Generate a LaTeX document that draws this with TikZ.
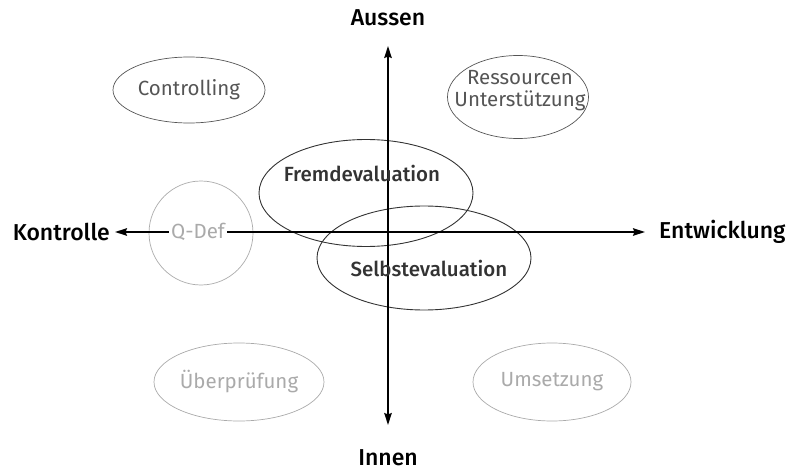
\documentclass[tikz,border=0pt]{standalone}
\usepackage{fontspec}
\setmainfont{Fira Sans}
\newfontfamily\medfont{Fira Sans Medium}
\usetikzlibrary{arrows.meta,shapes.geometric}
\definecolor{midgray}{HTML}{555555}
\definecolor{darkgray2}{HTML}{333333}
\definecolor{lightgray2}{HTML}{AAAAAA}
\tikzset{axtip/.tip={Stealth[length=12pt,width=7.5pt,inset=1.5pt]}}
\begin{document}
\begin{tikzpicture}[x=1pt,y=-1pt,
  axislabel/.style={font=\medfont\fontsize{23}{26}\selectfont, text=black, inner sep=0pt},
  axisline/.style={line width=1.6pt},
  oval/.style={draw, ellipse, inner sep=0pt, line width=0.7pt, font=\fontsize{20.5}{23}\selectfont, align=center},
  ovalmid/.style={oval, draw=midgray, text=midgray},
  ovaldark/.style={oval, draw=darkgray2, text=darkgray2, line width=0.9pt},
  ovallight/.style={oval, draw=lightgray2, text=lightgray2},
  evaltext/.style={font=\medfont\fontsize{20.5}{23}\selectfont, text=darkgray2, inner sep=0pt}
]
\useasboundingbox (0,0) rectangle (789,473);
% ellipses
\node[ovalmid, minimum width=152pt, minimum height=66pt] (ctrl) at (189,90) {Controlling};
\node[ovalmid, minimum width=141pt, minimum height=83pt] (res) at (518,97) {};
\node[text=midgray, font=\fontsize{20.5}{23}\selectfont, align=center, inner sep=0pt] (restext) at (520,91) {Ressourcen\\[-1pt]Unterstützung};
\node[ovaldark, minimum width=214pt, minimum height=107pt] (fremd) at (366,193) {};
\node[ovaldark, minimum width=214pt, minimum height=104pt] (selbst) at (424,258) {};
\node[ovallight, minimum width=170pt, minimum height=78pt] (ueber) at (239,382) {Überprüfung};
\node[ovallight, minimum width=158pt, minimum height=78pt] (ums) at (552,382) {Umsetzung};
\node[draw=lightgray2, circle, line width=0.7pt, minimum size=104pt] (qcirc) at (201,233) {};
% axis labels
\node[axislabel] (aussen) at (388,18) {Aussen};
\node[axislabel] (innen) at (388,458) {Innen};
\node[axislabel, anchor=east] (kontrolle) at (110,232) {Kontrolle};
\node[axislabel, anchor=west] (entw) at (659,232) {Entwicklung};
% axes
\coordinate (top) at (388,46);
\coordinate (bot) at (388,425);
\coordinate (left) at (115,232);
\coordinate (right) at (645,232);
\draw[axisline, axtip-axtip] (bot) -- (top);
\draw[axisline, axtip-axtip] (left) -- (right);
% texts over axes
\node[evaltext] (ftext) at (362,173) {Fremdevaluation};
\node[evaltext] (stext) at (429,268) {Selbstevaluation};
\node[fill=white, text=lightgray2, font=\fontsize{20.5}{23}\selectfont, inner sep=2pt] (qdef) at (198,232) {Q-Def};
\end{tikzpicture}
\end{document}
